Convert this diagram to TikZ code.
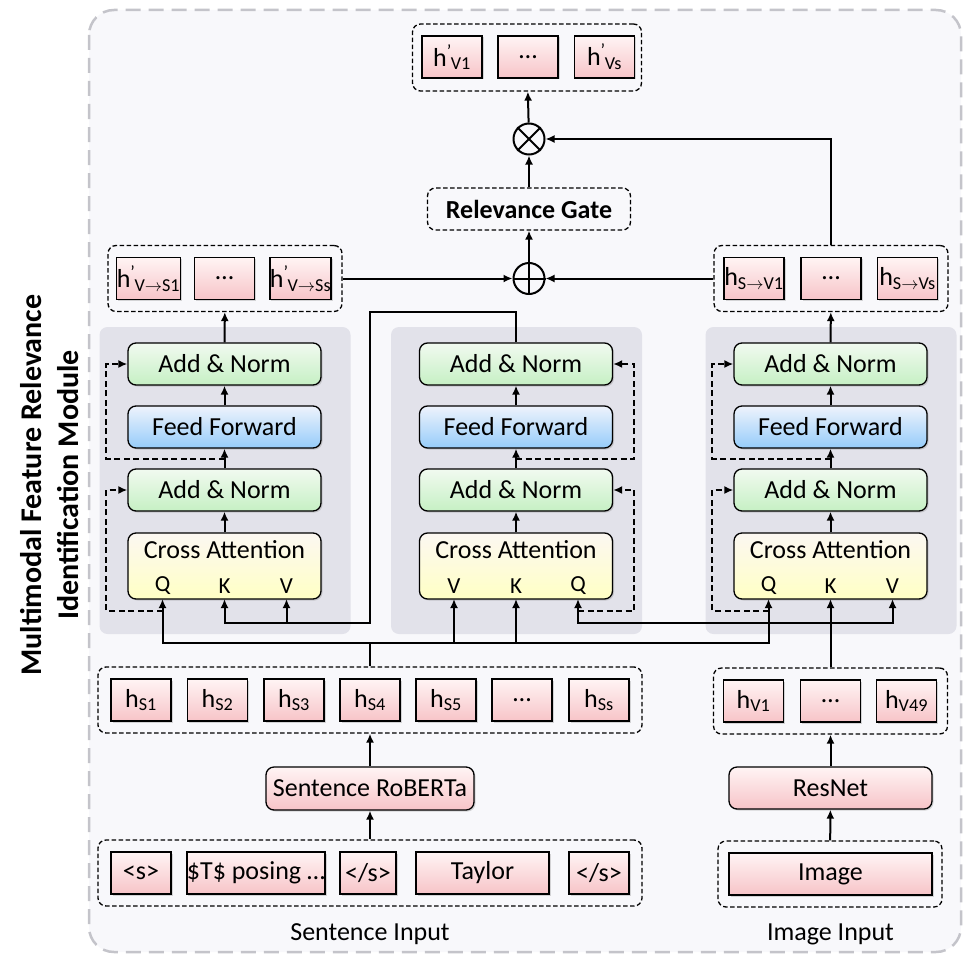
\documentclass[tikz,border=0pt]{standalone}
\usepackage{fontspec}
\setmainfont{Carlito}
\usetikzlibrary{arrows.meta,positioning,calc,shadows}

\definecolor{pinktop}{RGB}{255,244,244}
\definecolor{pinkbot}{RGB}{247,196,200}
\definecolor{greentop}{RGB}{241,250,240}
\definecolor{greenbot}{RGB}{198,240,196}
\definecolor{bluetop}{RGB}{238,243,252}
\definecolor{bluebot}{RGB}{150,204,250}
\definecolor{yeltop}{RGB}{252,248,242}
\definecolor{yelbot}{RGB}{255,255,196}
\definecolor{blockgray}{RGB}{226,226,234}
\definecolor{outerbg}{RGB}{248,248,251}
\definecolor{outerline}{RGB}{196,196,202}

\newcommand{\hprime}[1]{h\textsuperscript{'}\kern-1pt\textsubscript{#1}}

\begin{document}
\begin{tikzpicture}[x=1pt, y=-1pt,
    font=\fontsize{26}{30}\selectfont,
    shade/.style={drop shadow={shadow xshift=1.5pt, shadow yshift=-1.5pt, opacity=0.3}},
    tok/.style={draw, line width=1.3pt, top color=pinktop, bottom color=pinkbot, shade,
      minimum width=60pt, minimum height=42pt, inner sep=0pt},
    rtok/.style={tok, rounded corners=8pt},
    addnorm/.style={draw, line width=1.3pt, rounded corners=8pt, top color=greentop, bottom color=greenbot, shade,
      minimum width=193pt, minimum height=42pt},
    ffn/.style={addnorm, top color=bluetop, bottom color=bluebot},
    crossatt/.style={addnorm, top color=yeltop, bottom color=yelbot, minimum height=66pt},
    port/.style={font=\fontsize{23}{26}\selectfont, inner sep=0pt},
    grp/.style={draw, dash pattern=on 4.5pt off 2.5pt, line width=1.3pt, rounded corners=8pt, inner sep=0pt},
    blockbg/.style={fill=blockgray, rounded corners=8pt, minimum width=251pt, minimum height=307pt},
    opcirc/.style={draw, circle, line width=2pt, minimum size=31pt, inner sep=0pt},
    wire/.style={line width=2pt},
    flow/.style={-{Latex[length=9pt,width=8pt]}, line width=2pt},
    res/.style={flow, dash pattern=on 6pt off 3.5pt}
  ]
    \useasboundingbox (0,0) rectangle (965,955);
    \draw[fill=outerbg, draw=outerline, line width=2.5pt, dash pattern=on 15pt off 8pt, rounded corners=25pt]
      (89,10) rectangle (961,952);

    \node[rotate=90, align=center, font=\fontsize{30}{37}\selectfont\bfseries] (title) at (50,485)
      {Multimodal Feature Relevance\\Identification Module};

    % transformer blocks
    \foreach \n/\x/\s/\side in {l/224.5/-1/west, m/516/1/east, r/830.5/-1/west} {
      \node[blockbg] (\n blk) at ({\x+0.5},480.5) {};
      \node[crossatt] (\n ca) at (\x,566) {};
      \node (\n catxt) at (\x,550) {Cross Attention};
      \node[port] (\n qtxt) at ({\x+(\s)*62},586) {Q};
      \node[port] (\n ktxt) at (\x,586) {K};
      \node[port] (\n vtxt) at ({\x-(\s)*62},586) {V};
      \node[addnorm] (\n an2) at (\x,490) {Add \& Norm};
      \node[ffn] (\n ff) at (\x,427) {Feed Forward};
      \node[addnorm] (\n an1) at (\x,364) {Add \& Norm};
      \coordinate (\n Q) at ({\x+(\s)*62},599);
      \coordinate (\n K) at (\x,599);
      \coordinate (\n V) at ({\x-(\s)*62},599);
      \draw[flow] (\n ca) -- (\n an2);
      \draw[flow] (\n an2) -- (\n ff);
      \draw[flow] (\n ff) -- (\n an1);
      \draw[res] ([yshift=-12pt]\n Q) -| ([xshift=\s*21pt]\n an2.\side) -- (\n an2.\side);
      \draw[res] ($(\n an2.north)!0.5!(\n ff.south)$) -| ([xshift=\s*21pt]\n an1.\side) -- (\n an1.\side);
    }

    % outputs of the blocks
    \node[grp, minimum width=234pt, minimum height=66pt] (lout) at (225,278.5) {};
    \node[tok] (lo1) at (148.5,278.5) {\hprime{V$\rightarrow$S1}};
    \node[tok] (lo2) at (224.5,278.5) {\ldots};
    \node[tok] (lo3) at (300.5,278.5) {\hprime{V$\rightarrow$Ss}};

    \node[grp, minimum width=234pt, minimum height=66pt] (rout) at (831,278.5) {};
    \node[tok] (ro1) at (754,278.5) {h\textsubscript{S$\rightarrow$V1}};
    \node[tok] (ro2) at (831,278.5) {\ldots};
    \node[tok] (ro3) at (907.5,278.5) {h\textsubscript{S$\rightarrow$Vs}};

    \node[opcirc] (oplus) at (529,278.5) {};
    \draw[line width=2pt] (oplus.north) -- (oplus.south) (oplus.west) -- (oplus.east);
    \node[grp, minimum width=203pt, minimum height=42pt, font=\fontsize{26}{30}\selectfont\bfseries] (gate) at (529,209) {Relevance Gate};
    \node[opcirc] (otimes) at (529,139) {};
    \draw[line width=2pt] (otimes.north west) -- (otimes.south east) (otimes.north east) -- (otimes.south west);

    \node[grp, minimum width=229pt, minimum height=67pt] (topgrp) at (527,57.5) {};
    \node[tok] (t1) at (452,57) {\hprime{V1}};
    \node[tok] (t2) at (528,57) {\ldots};
    \node[tok] (t3) at (604.5,57) {\hprime{Vs}};

    \draw[flow] (lan1) -- (lout);
    \draw[flow] (ran1) -- (rout);
    \draw[flow] (lout) -- (oplus);
    \draw[flow] (rout) -- (oplus);
    \draw[flow] (oplus) -- (gate);
    \draw[flow] (gate) -- (otimes);
    \draw[flow] (otimes) -- (topgrp);
    \draw[flow] (rout.north) |- (otimes);

    % encoded features
    \node[grp, minimum width=544pt, minimum height=66pt] (hsg) at (370,700) {};
    \node[tok] (hs1) at (141,700) {h\textsubscript{S1}};
    \node[tok] (hs2) at (217.5,700) {h\textsubscript{S2}};
    \node[tok] (hs3) at (294,700) {h\textsubscript{S3}};
    \node[tok] (hs4) at (370,700) {h\textsubscript{S4}};
    \node[tok] (hs5) at (446,700) {h\textsubscript{S5}};
    \node[tok] (hs6) at (522,700) {\ldots};
    \node[tok] (hs7) at (599,700) {h\textsubscript{Ss}};

    \node[grp, minimum width=234pt, minimum height=66pt] (hvg) at (830.5,701) {};
    \node[tok] (hv1) at (753.5,701) {h\textsubscript{V1}};
    \node[tok] (hv2) at (830.5,701) {\ldots};
    \node[tok] (hv3) at (906.5,701) {h\textsubscript{V49}};

    % wiring into the blocks
    \coordinate (tbus) at (370,643);
    \coordinate (vbus) at (830.5,623);
    \coordinate (mbus) at (370,623);
    \draw[wire] (hsg.north) -- (tbus);
    \draw[flow] (tbus) -| (lQ);
    \draw[flow] (tbus) -| (rQ);
    \draw[flow] (mV |- tbus) -- (mV);
    \draw[flow] (mK |- tbus) -- (mK);
    \draw[flow] (hvg.north) -- (rK);
    \draw[flow] (vbus) -| (rV);
    \draw[flow] (vbus) -| (mQ);
    \draw[flow] (man1.north) -- ++(0,-30) -| (mbus) -| (lK);
    \draw[flow] (lV |- mbus) -- (lV);

    % encoders and inputs
    \node[rtok, minimum width=208pt, minimum height=43pt] (roberta) at (370,788.5) {Sentence RoBERTa};
    \node[rtok, minimum width=203pt] (resnet) at (830.5,788) {ResNet};

    \node[grp, minimum width=544pt, minimum height=66pt] (sin) at (370,873) {};
    \node[tok] (w1) at (141,873) {<s>};
    \node[tok, minimum width=138pt] (w2) at (256,873) {\$T\$ posing \ldots};
    \node[tok, minimum width=56pt] (w3) at (368,873) {</s>};
    \node[tok, minimum width=133pt] (w4) at (482.5,873) {Taylor};
    \node[tok] (w5) at (599,873) {</s>};

    \node[grp, minimum width=224pt, minimum height=66pt] (vin) at (830,874) {};
    \node[tok, minimum width=203pt] (img) at (830.5,874) {Image};

    \draw[flow] (sin) -- (roberta);
    \draw[flow] (roberta) -- (hsg);
    \draw[flow] (vin) -- (resnet);
    \draw[flow] (resnet) -- (hvg);

    \node (slabel) at (370,934) {Sentence Input};
    \node (vlabel) at (830.5,934) {Image Input};
  \end{tikzpicture}
\end{document}
